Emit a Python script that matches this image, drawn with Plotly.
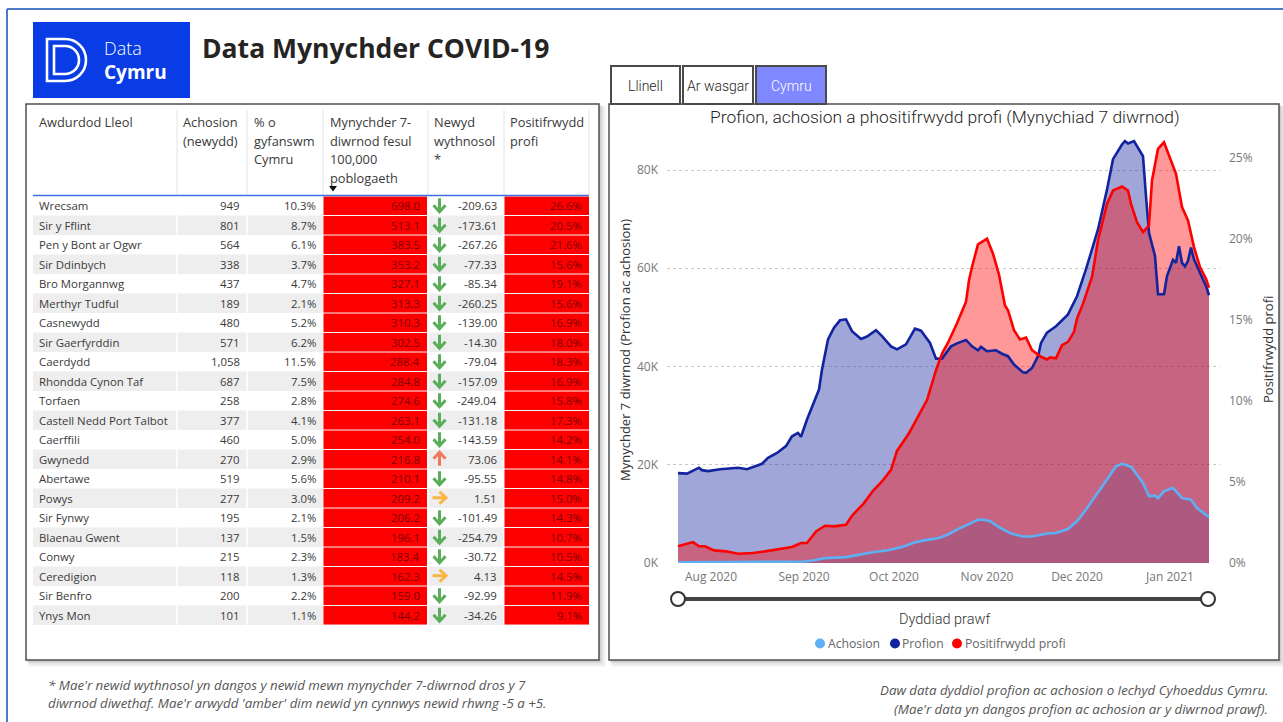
import plotly.graph_objects as go

# ---------------- DATA ----------------
names = ["Wrecsam", "Sir y Fflint", "Pen y Bont ar Ogwr", "Sir Ddinbych", "Bro Morgannwg",
         "Merthyr Tudful", "Casnewydd", "Sir Gaerfyrddin", "Caerdydd", "Rhondda Cynon Taf",
         "Torfaen", "Castell Nedd Port Talbot", "Caerffili", "Gwynedd", "Abertawe", "Powys",
         "Sir Fynwy", "Blaenau Gwent", "Conwy", "Ceredigion", "Sir Benfro", "Ynys Mon"]
achosion_newydd = [949, 801, 564, 338, 437, 189, 480, 571, 1058, 687, 258, 377, 460, 270,
                   519, 277, 195, 137, 215, 118, 200, 101]
pct_cymru = [10.3, 8.7, 6.1, 3.7, 4.7, 2.1, 5.2, 6.2, 11.5, 7.5, 2.8, 4.1, 5.0, 2.9, 5.6,
             3.0, 2.1, 1.5, 2.3, 1.3, 2.2, 1.1]
mynychder = [698.0, 513.1, 383.5, 353.2, 327.1, 313.3, 310.3, 302.5, 288.4, 284.8, 274.6,
             263.1, 254.0, 216.8, 210.1, 209.2, 206.2, 196.1, 183.4, 162.3, 159.0, 144.2]
newid_wythnosol = [-209.63, -173.61, -267.26, -77.33, -85.34, -260.25, -139.00, -14.30,
                   -79.04, -157.09, -249.04, -131.18, -143.59, 73.06, -95.55, 1.51, -101.49,
                   -254.79, -30.72, 4.13, -92.99, -34.26]
positifrwydd = [26.6, 20.5, 21.6, 15.6, 19.1, 15.6, 16.9, 18.0, 18.3, 16.9, 15.8, 17.3, 14.2,
                14.1, 14.8, 15.0, 14.3, 10.7, 10.5, 14.5, 11.9, 9.1]

header_cols = [["Awdurdod Lleol"], ["Achosion", "(newydd)"], ["% o", "gyfanswm", "Cymru"],
               ["Mynychder 7-", "diwrnod fesul", "100,000", "poblogaeth"],
               ["Newyd", "wythnosol", "*"], ["Positifrwydd", "profi"]]

# Chart series (7-day values, thousands / percent)
profion_dates = ["2020-07-21", "2020-07-24", "2020-07-28", "2020-07-29", "2020-07-31", "2020-08-04",
                 "2020-08-10", "2020-08-13", "2020-08-18", "2020-08-20", "2020-08-23", "2020-08-26",
                 "2020-08-28", "2020-08-30", "2020-08-31", "2020-09-02", "2020-09-06", "2020-09-07",
                 "2020-09-09", "2020-09-11", "2020-09-13", "2020-09-15", "2020-09-17", "2020-09-20",
                 "2020-09-22", "2020-09-25", "2020-09-27", "2020-09-30", "2020-10-02", "2020-10-05",
                 "2020-10-08", "2020-10-10", "2020-10-13", "2020-10-15", "2020-10-17", "2020-10-20",
                 "2020-10-22", "2020-10-25", "2020-10-27", "2020-10-29", "2020-10-30", "2020-11-01",
                 "2020-11-04", "2020-11-06", "2020-11-08", "2020-11-10", "2020-11-13", "2020-11-14",
                 "2020-11-16", "2020-11-18", "2020-11-19", "2020-11-21", "2020-11-24", "2020-11-28",
                 "2020-12-01", "2020-12-04", "2020-12-08", "2020-12-11", "2020-12-13", "2020-12-16",
                 "2020-12-17", "2020-12-18", "2020-12-20", "2020-12-21", "2020-12-23", "2020-12-24",
                 "2020-12-25", "2020-12-27", "2020-12-28", "2020-12-30", "2020-12-31", "2021-01-02",
                 "2021-01-03", "2021-01-04", "2021-01-05", "2021-01-06", "2021-01-07", "2021-01-08",
                 "2021-01-09", "2021-01-11", "2021-01-13", "2021-01-14"]
profion_k = [18.3, 18.2, 19.4, 18.9, 18.7, 19.1, 19.4, 19.1, 20.2, 21.4, 22.4, 23.8, 25.8, 26.5,
             25.7, 29.2, 35.3, 39.4, 45.5, 47.9, 49.4, 49.6, 47.2, 45.6, 46.1, 47.4, 46.2, 44.1,
             43.5, 44.5, 47.7, 47.3, 44.8, 41.6, 41.6, 44.1, 44.7, 45.4, 44.1, 43.3, 44.0, 43.1,
             43.3, 42.6, 42.1, 40.4, 38.8, 38.7, 39.7, 42.1, 44.8, 46.9, 48.2, 50.6, 54.3, 59.8,
             67.9, 76.0, 82.2, 85.2, 85.9, 85.4, 85.9, 84.9, 82.8, 74.7, 67.2, 62.5, 54.7, 54.7,
             58.4, 61.7, 61.1, 64.5, 61.1, 60.4, 61.5, 64.2, 61.8, 59.1, 56.4, 54.5]

achosion_dates = ["2020-07-21", "2020-08-10", "2020-08-25", "2020-09-01", "2020-09-04", "2020-09-08",
                  "2020-09-15", "2020-09-19", "2020-09-24", "2020-09-29", "2020-10-04", "2020-10-08",
                  "2020-10-11", "2020-10-16", "2020-10-19", "2020-10-22", "2020-10-25", "2020-10-29",
                  "2020-10-31", "2020-11-02", "2020-11-05", "2020-11-09", "2020-11-13", "2020-11-16",
                  "2020-11-21", "2020-11-24", "2020-11-28", "2020-12-01", "2020-12-04", "2020-12-08",
                  "2020-12-11", "2020-12-14", "2020-12-16", "2020-12-19", "2020-12-21", "2020-12-23",
                  "2020-12-25", "2020-12-27", "2020-12-28", "2020-12-30", "2021-01-02", "2021-01-03",
                  "2021-01-05", "2021-01-08", "2021-01-10", "2021-01-13", "2021-01-14"]
achosion_k = [0.14, 0.15, 0.2, 0.3, 0.5, 1.0, 1.2, 1.7, 2.2, 2.6, 3.3, 4.2, 4.6, 5.1, 5.8, 6.8,
              7.6, 8.8, 8.8, 8.5, 7.3, 6.0, 5.4, 5.4, 6.0, 6.1, 6.9, 8.5, 10.9, 14.3, 17.0, 19.7,
              20.2, 19.6, 18.0, 16.3, 13.6, 13.7, 13.2, 14.6, 15.3, 14.6, 13.2, 12.9, 11.2, 9.8, 9.4]

pos_dates = ["2020-07-21", "2020-07-24", "2020-07-26", "2020-07-28", "2020-07-30", "2020-08-02",
             "2020-08-06", "2020-08-10", "2020-08-15", "2020-08-19", "2020-08-23", "2020-08-28",
             "2020-08-31", "2020-09-02", "2020-09-05", "2020-09-08", "2020-09-11", "2020-09-15",
             "2020-09-17", "2020-09-21", "2020-09-24", "2020-09-27", "2020-09-30", "2020-10-02",
             "2020-10-06", "2020-10-09", "2020-10-12", "2020-10-15", "2020-10-17", "2020-10-19",
             "2020-10-22", "2020-10-25", "2020-10-26", "2020-10-27", "2020-10-29", "2020-11-01",
             "2020-11-03", "2020-11-05", "2020-11-07", "2020-11-08", "2020-11-10", "2020-11-12",
             "2020-11-14", "2020-11-16", "2020-11-19", "2020-11-21", "2020-11-22", "2020-11-24",
             "2020-11-26", "2020-11-28", "2020-11-30", "2020-12-01", "2020-12-03", "2020-12-06",
             "2020-12-08", "2020-12-11", "2020-12-13", "2020-12-16", "2020-12-18", "2020-12-19",
             "2020-12-21", "2020-12-23", "2020-12-25", "2020-12-26", "2020-12-28", "2020-12-30",
             "2020-12-31", "2021-01-03", "2021-01-05", "2021-01-07", "2021-01-09", "2021-01-11",
             "2021-01-13", "2021-01-14"]
pos_pct = [1.03, 1.17, 1.29, 1.03, 1.03, 0.78, 0.72, 0.57, 0.62, 0.72, 0.82, 0.99, 1.23, 1.23,
           1.95, 2.30, 2.26, 2.36, 2.92, 3.70, 4.46, 5.03, 5.75, 6.92, 8.01, 9.03, 10.06, 11.91,
           12.93, 13.6, 14.8, 16.12, 17.45, 18.27, 19.67, 20.02, 19.09, 17.8, 15.9, 15.60, 14.37,
           13.80, 13.92, 13.14, 12.73, 12.56, 12.69, 12.63, 13.45, 13.65, 14.27, 15.09, 16.01,
           17.66, 19.91, 22.17, 22.99, 23.24, 22.99, 22.17, 21.04, 20.43, 20.84, 23.61, 25.56,
           25.97, 25.46, 24.02, 21.97, 21.15, 19.50, 18.27, 17.55, 17.00]

left_ticks = [0, 20, 40, 60, 80]
right_ticks = [0, 5, 10, 15, 20, 25]

# ---------------- HELPERS ----------------
# Target layout is laid out in a 1283x722 pixel space; the figure itself is a little taller
# because the captured page is slightly taller than the nominal window.
W, H = 1283, 722
FW, FH = 1283, 730
SEG = "Open Sans, Noto Sans, sans-serif"
DIN = "Roboto, Open Sans, sans-serif"


def X(p):
    return p / W


def Y(p):
    return 1 - p / H


shapes = []
ann = []


def rect(x0, y0, x1, y1, fill=None, line=None, lw=0, layer="below"):
    shapes.append(dict(type="rect", xref="paper", yref="paper", x0=X(x0), x1=X(x1), y0=Y(y1), y1=Y(y0),
                       fillcolor=fill or "rgba(0,0,0,0)",
                       line=dict(color=line or "rgba(0,0,0,0)", width=lw), layer=layer))


def seg(x0, y0, x1, y1, color, lw, layer="below"):
    shapes.append(dict(type="line", xref="paper", yref="paper", x0=X(x0), x1=X(x1), y0=Y(y0), y1=Y(y1),
                       line=dict(color=color, width=lw), layer=layer))


def circle(cx, cy, r, fill, line=None, lw=0, layer="above"):
    shapes.append(dict(type="circle", xref="paper", yref="paper", x0=X(cx - r), x1=X(cx + r),
                       y0=Y(cy + r), y1=Y(cy - r), fillcolor=fill,
                       line=dict(color=line or fill, width=lw), layer=layer))


def path(cmds, color, lw=0, fill=None, layer="above"):
    s = ""
    for c in cmds:
        if len(c) == 1:
            s += c[0] + " "
        else:
            s += "%s %.5f %.5f " % (c[0], X(c[1]), Y(c[2]))
    shapes.append(dict(type="path", xref="paper", yref="paper", path=s.strip(),
                       line=dict(color=color, width=lw), fillcolor=fill or "rgba(0,0,0,0)", layer=layer))


def text(x, y, s, size, color, family=SEG, xa="left", ya="middle", angle=0, weight=None):
    f = dict(size=size, color=color, family=family)
    if weight:
        f["weight"] = weight
    ann.append(dict(x=X(x), y=Y(y), xref="paper", yref="paper", text=s, showarrow=False,
                    xanchor=xa, yanchor=ya, textangle=angle, font=f, borderpad=0))


# ---------------- FRAME / HEADER ----------------
seg(7, 9, 1283, 9, "#4A7CC9", 2)
seg(7, 9, 7, 722, "#4A7CC9", 2)

rect(33, 22, 190, 98, "#0A3CE6")
# D icon (two nested D outlines)
for (x0, y0, x1, y1) in [(47, 39, 86, 81), (54, 46, 79, 74)]:
    r = (y1 - y0) / 2
    xm = x1 - r
    d = "M %.5f %.5f L %.5f %.5f C %.5f %.5f %.5f %.5f %.5f %.5f C %.5f %.5f %.5f %.5f %.5f %.5f L %.5f %.5f Z" % (
        X(x0), Y(y0), X(xm), Y(y0),
        X(xm + r * 0.56), Y(y0), X(x1), Y(y0 + r * 0.44), X(x1), Y(y0 + r),
        X(x1), Y(y1 - r * 0.44), X(xm + r * 0.56), Y(y1), X(xm), Y(y1),
        X(x0), Y(y1))
    shapes.append(dict(type="path", xref="paper", yref="paper", path=d,
                       line=dict(color="white", width=2.6), layer="above"))
text(103, 48, "Data", 18, "white", SEG, weight=300)
text(103, 72, "<b>Cymru</b>", 19, "white", SEG)
text(201, 48, "<b>Data Mynychder COVID-19</b>", 26.5, "#252423", SEG)

# ---------------- PANELS ----------------
for (x0, y0, x1, y1) in [(26, 104, 599, 660), (609, 104, 1279, 660)]:
    for k, a in [(7, 0.04), (5, 0.05), (3, 0.07), (1.5, 0.08)]:
        rect(x0 + k * 0.4, y0 + k * 0.4, x1 + k, y1 + k, "rgba(0,0,0,%.2f)" % a)
    rect(x0, y0, x1, y1, "white", "#4F4F4F", 1.5)

# tabs
for (x0, x1, lab, fill, col) in [(611, 680, "Llinell", "white", "#252423"),
                                 (683, 753, "Ar wasgar", "white", "#252423"),
                                 (756, 826, "Cymru", "#8088FF", "white")]:
    rect(x0, 66, x1, 104, fill, "#4A4A4A", 2)
    text((x0 + x1) / 2, 86, lab, 14, col, DIN, xa="center", weight=300)

# ---------------- TABLE ----------------
row_top, rh = 196, 19.5
nrows = len(names)
for i in range(nrows):
    t = row_top + i * rh
    if i % 2 == 1:
        rect(33, t, 589, t + rh, "#EEEEEE")
for xs in [177, 247, 428, 504]:
    seg(xs, row_top, xs, row_top + nrows * rh, "white", 1.5)
for i in range(nrows):
    t = row_top + i * rh
    rect(323.5, t + 0.5, 427, t + rh - 0.5, "#FF0000")
    rect(504.5, t + 0.5, 589, t + rh - 0.5, "#FF0000")

for xs in [177, 247, 323, 428, 504, 589]:
    seg(xs, 110, xs, 195, "#E4E4E4", 1)
seg(33, 195.5, 589, 195.5, "#3F6FE0", 1.5)

col_x = [38, 182, 253, 329, 433, 509]
for cx, lines in zip(col_x, header_cols):
    for j, ln in enumerate(lines):
        text(cx, 122 + j * 18.7, ln, 12.8, "#3A3A3A")
path([("M", 329, 186), ("L", 337, 186), ("L", 333, 191.5), ("Z",)], "#111", 0, "#111")

TXT = "#3A3A3A"
DARKRED = "#7A0000"
for i in range(nrows):
    cy = row_top + i * rh + rh / 2
    text(38, cy, names[i], 11.4, TXT)
    text(241, cy, "{:,}".format(achosion_newydd[i]), 11.4, TXT, xa="right")
    text(317, cy, "%.1f%%" % pct_cymru[i], 11.4, TXT, xa="right")
    text(421, cy, "%.1f" % mynychder[i], 11.4, DARKRED, xa="right")
    text(498, cy, "%.2f" % newid_wythnosol[i], 11.4, TXT, xa="right")
    text(583, cy, "%.1f%%" % positifrwydd[i], 11.4, DARKRED, xa="right")
    v = newid_wythnosol[i]
    ax, ay = 439.5, cy - 0.5
    if abs(v) <= 5:
        path([("M", ax - 7, ay), ("L", ax + 6, ay), ("M", ax, ay - 6), ("L", ax + 6.5, ay), ("L", ax, ay + 6)],
             "#F9B443", 3)
    elif v > 0:
        path([("M", ax, ay + 7), ("L", ax, ay - 6), ("M", ax - 6, ay), ("L", ax, ay - 6.5), ("L", ax + 6, ay)],
             "#F0785A", 3)
    else:
        path([("M", ax, ay - 7), ("L", ax, ay + 6), ("M", ax - 6, ay), ("L", ax, ay + 6.5), ("L", ax + 6, ay)],
             "#5AAE5A", 3)

# ---------------- CHART ----------------
NAVY = "#12239E"
LBLUE = "#5EB0F5"
RED = "#FF0000"

fig = go.Figure()
fig.add_trace(go.Scatter(x=achosion_dates, y=achosion_k, mode="lines", line=dict(width=0, color=LBLUE),
                         fill="tozeroy", fillcolor="rgba(94,176,245,0.4)", yaxis="y", hoverinfo="skip"))
fig.add_trace(go.Scatter(x=profion_dates, y=profion_k, mode="lines", line=dict(width=0, color=NAVY),
                         fill="tozeroy", fillcolor="rgba(18,35,158,0.4)", yaxis="y", hoverinfo="skip"))
fig.add_trace(go.Scatter(x=pos_dates, y=pos_pct, mode="lines", line=dict(width=0, color=RED),
                         fill="tozeroy", fillcolor="rgba(255,0,0,0.4)", yaxis="y2", hoverinfo="skip"))
fig.add_trace(go.Scatter(x=achosion_dates, y=achosion_k, mode="lines", line=dict(width=2.6, color=LBLUE),
                         yaxis="y3", name="Achosion"))
fig.add_trace(go.Scatter(x=profion_dates, y=profion_k, mode="lines", line=dict(width=2.6, color=NAVY),
                         yaxis="y3", name="Profion"))
fig.add_trace(go.Scatter(x=pos_dates, y=pos_pct, mode="lines", line=dict(width=2.6, color=RED),
                         yaxis="y4", name="Positifrwydd profi"))

y_top_px, y_bot_px = 132, 563
left_max = (y_bot_px - y_top_px) / 98.25 * 20
right_max = (y_bot_px - y_top_px) / 81.0 * 5
dom_y = [Y(y_bot_px), Y(y_top_px)]

text(945, 117, "Profion, achosion a phositifrwydd profi (Mynychiad 7 diwrnod)", 17.4, "#252423", DIN,
     xa="center", weight=300)
text(625, 350, "Mynychder 7 diwrnod (Profion ac achosion)", 13, "#333333", SEG, xa="center", angle=-90)
text(1268, 350, "Positifrwydd profi", 13, "#333333", SEG, xa="center", angle=-90)
text(944, 619, "Dyddiad prawf", 14.5, "#333333", DIN, xa="center", weight=300)

# slider
seg(678, 599, 1208, 599, "#444444", 4, layer="above")
circle(678, 599, 7, "white", "#333333", 2)
circle(1208, 599, 7, "white", "#333333", 2)

# legend
for cx, lab, col in [(820, "Achosion", LBLUE), (895, "Profion", NAVY), (957, "Positifrwydd profi", RED)]:
    circle(cx, 643.5, 5, col)
    text(cx + 6.5, 643, lab, 12.2, "#666666", SEG)

# footnotes
FN = 13.3
text(47, 685, "<i>* Mae'r newid wythnosol yn dangos y newid mewn mynychder 7-diwrnod dros y 7</i>", FN, "#555555")
text(47, 703, "<i>diwrnod diwethaf. Mae'r arwydd 'amber' dim newid yn cynnwys newid rhwng -5 a +5.</i>", FN, "#555555")
text(1269, 690, "<i>Daw data dyddiol profion ac achosion o Iechyd Cyhoeddus Cymru.</i>", FN, "#555555", xa="right")
text(1269, 709, "<i>(Mae'r data yn dangos profion ac achosion ar y diwrnod prawf).</i>", FN, "#555555", xa="right")

tickfont = dict(family=SEG, size=12, color="#777777")
fig.update_layout(
    width=FW, height=FH, autosize=False, margin=dict(l=0, r=0, t=0, b=0),
    paper_bgcolor="white", plot_bgcolor="rgba(0,0,0,0)", showlegend=False,
    xaxis=dict(domain=[X(667), X(1220)], range=["2020-07-17 08:00", "2021-01-17 16:00"],
               type="date", tick0="2020-08-01", dtick="M1", tickformat="%b %Y",
               showgrid=False, zeroline=False, showline=False, ticks="", tickfont=tickfont,
               ticklabelstandoff=5),
    yaxis=dict(domain=dom_y, range=[0, left_max], tickvals=left_ticks,
               ticktext=["%dK" % v for v in left_ticks], showgrid=True, gridcolor="#C8C8C8",
               griddash="dot", gridwidth=1, zeroline=False, showline=False, ticks="",
               tickfont=tickfont, ticklabelstandoff=8),
    yaxis2=dict(domain=dom_y, overlaying="y", side="right", range=[0, right_max],
                tickvals=right_ticks, ticktext=["%d%%" % v for v in right_ticks], showgrid=False,
                zeroline=False, showline=False, ticks="", tickfont=tickfont, ticklabelstandoff=8),
    yaxis3=dict(overlaying="y", range=[0, left_max], visible=False),
    yaxis4=dict(overlaying="y", side="right", range=[0, right_max], visible=False),
    shapes=shapes, annotations=ann,
)

# remove the default 8px page margin so the figure sits at the window origin
fig.write_html("out.html", config={"displayModeBar": False},
               post_script="document.body.style.margin='0';document.body.style.overflow='hidden';"
                           "document.documentElement.style.overflow='hidden';")
